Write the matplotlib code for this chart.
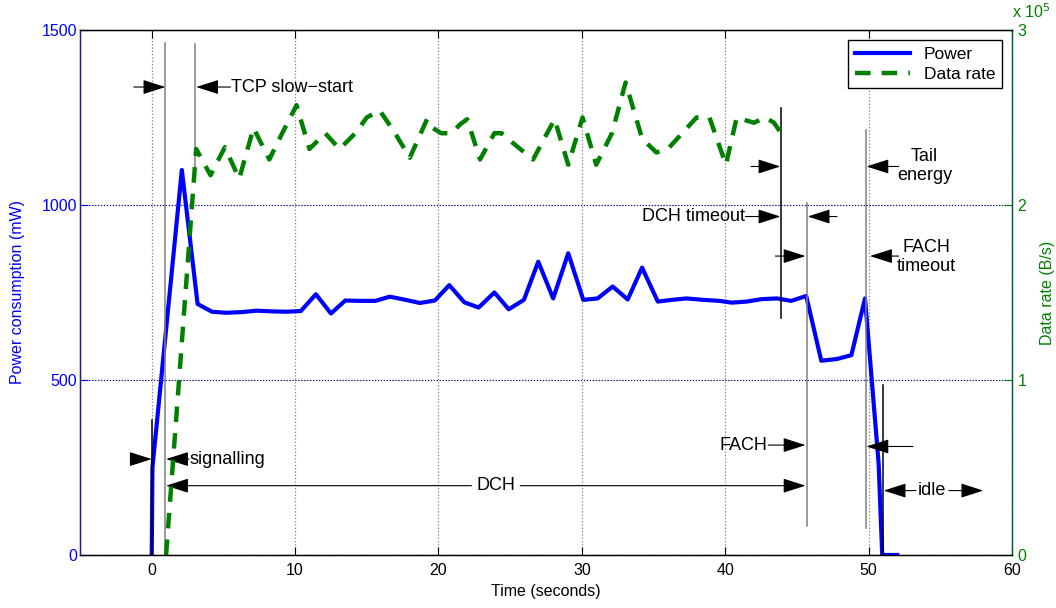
import numpy as np
import matplotlib.pyplot as plt

plt.rcParams['font.family'] = ['Liberation Sans', 'DejaVu Sans']

# power trace (mW)
t_power = [0.0, 0.05, 2.1, 3.2, 4.2, 5.2, 6.3, 7.3, 8.4, 9.4, 10.4, 11.45, 12.5,
           13.5, 14.55, 15.6, 16.6, 17.7, 18.7, 19.75, 20.75, 21.8, 22.8, 23.9,
           24.9, 25.96, 26.96, 28.0, 29.05, 30.1, 31.1, 32.15, 33.2, 34.2, 35.3,
           36.3, 37.3, 38.45, 39.6, 40.45, 41.5, 42.55, 43.6, 44.6, 45.65, 46.7,
           47.8, 48.8, 49.75, 50.7, 50.95, 52.0]
power = [0, 250, 1100, 717, 695, 692, 694, 698, 696, 695, 697, 745, 690,
         727, 726, 726, 738, 729, 720, 727, 771, 722, 707, 750,
         702, 729, 838, 733, 862, 729, 733, 767, 730, 821, 724,
         729, 733, 729, 726, 721, 724, 731, 733, 726, 740, 555,
         560, 571, 733, 262, 0, 0]

# data rate trace (B/s)
t_rate = [1.0, 3.1, 4.1, 5.1, 6.1, 7.1, 8.2, 9.1, 10.1, 11.0, 12.1, 13.1, 14.2,
          15.0, 15.9, 16.9, 18.0, 19.2, 19.6, 20.2, 20.9, 21.5, 22.0, 22.9, 23.9,
          24.4, 25.4, 26.6, 28.1, 29.05, 30.05, 31.0, 32.1, 33.05, 34.2, 35.2,
          36.0, 37.0, 38.0, 38.9, 40.05, 40.8, 42.0, 42.8, 43.4, 43.9]
rate = [0.0, 2.32, 2.17, 2.33, 2.15, 2.44, 2.26, 2.41, 2.57, 2.32, 2.41, 2.32, 2.41,
        2.50, 2.54, 2.42, 2.27, 2.49, 2.44, 2.41, 2.41, 2.46, 2.49, 2.26, 2.41,
        2.41, 2.34, 2.26, 2.49, 2.23, 2.50, 2.23, 2.41, 2.70, 2.38, 2.30,
        2.32, 2.41, 2.50, 2.50, 2.23, 2.50, 2.47, 2.50, 2.47, 2.41]
rate = [r * 1e5 for r in rate]

# vertical markers: x, y bottom, y top, colour
vlines = [(0.0, 0, 385, 'black'),
          (0.95, 0, 1463, 'gray'),
          (3.05, 1067, 1460, 'gray'),
          (43.9, 677, 1277, 'black'),
          (45.7, 84, 1006, 'gray'),
          (49.8, 77, 1214, 'gray'),
          (51.0, 0, 486, 'black')]

# arrows: (from, to)
arrows = [((-1.25, 1337), (0.95, 1337)),
          ((5.5, 1337), (3.1, 1337)),
          ((-1.5, 274), (0.0, 274)),
          ((2.6, 274), (1.0, 274)),
          ((22.3, 198), (1.0, 198)),
          ((25.7, 198), (45.6, 198)),
          ((41.4, 967), (43.85, 967)),
          ((47.8, 967), (45.75, 967)),
          ((41.8, 1110), (43.85, 1110)),
          ((52.1, 1110), (49.85, 1110)),
          ((43.5, 854), (45.6, 854)),
          ((52.1, 854), (50.1, 854)),
          ((43.0, 314), (45.6, 314)),
          ((53.1, 310), (49.85, 310)),
          ((53.3, 184), (51.05, 184)),
          ((55.6, 184), (58.0, 184))]

fig = plt.figure(figsize=(10.56, 6.08), dpi=100)
ax = fig.add_axes([0.0758, 0.0872, 0.8825, 0.8635])
ax2 = ax.twinx()

ax.set_xlim(-5, 60)
ax.set_ylim(0, 1500)
ax2.set_ylim(0, 3e5)

ax.grid(True, axis='x', linestyle=':', color='gray', lw=0.9)
ax.grid(True, axis='y', linestyle=':', color='black', lw=0.8)
ax2.grid(True, axis='y', linestyle=':', color='blue', lw=0.8, alpha=0.6)
ax.set_axisbelow(True)

l1, = ax.plot(t_power, power, color='blue', lw=3, label='Power', zorder=3)
l2, = ax2.plot(t_rate, rate, color='green', lw=3.2, ls=(0, (3.5, 2.5)), label='Data rate')

for x, y0, y1, c in vlines:
    ax.plot([x, x], [y0, y1], color=c, lw=1.1, zorder=4)

head = '-|>,head_length=1.0,head_width=0.32'
for (x0, y0), (x1, y1) in arrows:
    ax.annotate('', xy=(x1, y1), xytext=(x0, y0),
                arrowprops=dict(arrowstyle=head, color='black', lw=0.8,
                                shrinkA=0, shrinkB=0, mutation_scale=14),
                zorder=5)

fs = 13
ax.text(5.55, 1337, 'TCP slow\u2212start', fontsize=fs, va='center', ha='left')
ax.text(2.65, 274, 'signalling', fontsize=fs, va='center', ha='left')
ax.text(24.0, 198, 'DCH', fontsize=fs, va='center', ha='center')
ax.text(41.35, 967, 'DCH timeout', fontsize=fs, va='center', ha='right')
ax.text(53.9, 1111, 'Tail\nenergy', fontsize=fs, va='center', ha='center', linespacing=1.1)
ax.text(54.0, 851, 'FACH\ntimeout', fontsize=fs, va='center', ha='center', linespacing=1.1)
ax.text(42.95, 314, 'FACH', fontsize=fs, va='center', ha='right')
ax.text(54.45, 184, 'idle', fontsize=fs, va='center', ha='center')

ax.set_xticks(range(0, 61, 10))
ax.set_yticks([0, 500, 1000, 1500])
ax2.set_yticks([0, 1e5, 2e5, 3e5])
ax2.set_yticklabels(['0', '1', '2', '3'])
ax.tick_params(axis='x', direction='in', top=True, labelsize=11.5, length=6, pad=6)
ax.tick_params(axis='y', direction='in', colors='blue', labelsize=11.5, length=6, pad=2)
ax2.tick_params(axis='y', direction='in', colors='green', labelsize=11.5, length=6, pad=4)
ax.tick_params(axis='x', colors='black')

ax.set_xlabel('Time (seconds)', fontsize=11.5, labelpad=4)
ax.set_ylabel('Power consumption (mW)', fontsize=11.5, color='blue', labelpad=12)
ax2.set_ylabel('Data rate (B/s)', fontsize=11.5, color='green', labelpad=10)
ax2.text(1.0, 1.018, 'x 10$^{5}$', transform=ax2.transAxes, color='green',
         fontsize=11.5, ha='left', va='bottom')

for s in ax2.spines.values():
    s.set_linewidth(1.0)
ax2.spines['right'].set_color('#0b5d4a')
ax2.spines['left'].set_color('#1a1a80')

leg = ax2.legend(handles=[l1, l2], loc='upper right', fontsize=12.5, fancybox=False,
                 edgecolor='black', framealpha=1, handlelength=3.2,
                 borderaxespad=0.6, borderpad=0.35, labelspacing=0.3)
leg.get_frame().set_linewidth(1.0)

plt.savefig('out.png', dpi=100)
